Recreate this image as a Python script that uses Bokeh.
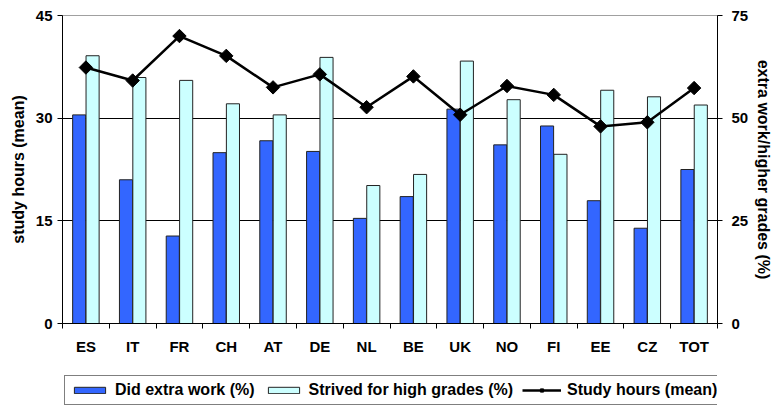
import math
from bokeh.plotting import figure
from bokeh.layouts import column
from bokeh.models import (Range1d, LinearAxis, FixedTicker, Legend, LegendItem, ColumnDataSource)
from bokeh.embed import file_html
from bokeh.resources import INLINE

countries = ["ES", "IT", "FR", "CH", "AT", "DE", "NL", "BE", "UK", "NO", "FI", "EE", "CZ", "TOT"]
did_extra_work = [50.8, 35.0, 21.3, 41.6, 44.5, 41.9, 25.6, 30.9, 52.2, 43.5, 48.1, 29.9, 23.2, 37.5]
strived_high_grades = [65.2, 59.9, 59.2, 53.5, 50.8, 64.8, 33.6, 36.3, 63.9, 54.5, 41.2, 56.8, 55.2, 53.2]
study_hours = [37.4, 35.5, 42.0, 39.1, 34.5, 36.4, 31.6, 36.1, 30.5, 34.7, 33.4, 28.8, 29.4, 34.4]
left_ticks = [0, 15, 30, 45]
right_ticks = [0, 25, 50, 75]
legend_labels = ["Did extra work (%)", "Strived for high grades (%)", "Study hours (mean)"]

FONT = "Liberation Sans"
BLUE = "#3366FF"
CYAN = "#CCFFFF"
EDGE = "#222222"
n = len(countries)
centers = [i + 0.5 for i in range(n)]
off = 0.143
bw = 0.28

src = ColumnDataSource(dict(
    x_extra=[c - off for c in centers],
    x_strived=[c + off for c in centers],
    x=centers,
    extra=did_extra_work,
    strived=strived_high_grades,
    hours=study_hours,
))

p = figure(width=775, height=372, output_backend="svg", toolbar_location=None,
           x_range=Range1d(0, n), y_range=Range1d(0, 45),
           min_border_left=62, min_border_right=53, min_border_top=15, min_border_bottom=49,
           background_fill_color="white", border_fill_color="white")
p.outline_line_color = "#a0a0a0"
p.outline_line_width = 1
p.extra_y_ranges = {"pct": Range1d(0, 75)}

# axes
p.xaxis.ticker = FixedTicker(ticks=centers, minor_ticks=list(range(n + 1)))
p.xaxis.major_label_overrides = {c: lab for c, lab in zip(centers, countries)}
p.xaxis.major_tick_out = 0
p.xaxis.major_tick_in = 0
p.xaxis.minor_tick_out = 5
p.xaxis.minor_tick_in = 0
p.xaxis.minor_tick_line_color = "black"
p.xaxis.major_label_standoff = 9

p.yaxis.ticker = FixedTicker(ticks=left_ticks)
p.yaxis.axis_label = "study hours (mean)"
p.yaxis.minor_tick_out = 0
p.yaxis.minor_tick_in = 0
p.yaxis.major_tick_out = 5
p.yaxis.major_tick_in = 0
p.yaxis.major_label_standoff = 5
p.yaxis.axis_label_standoff = 6

right = LinearAxis(y_range_name="pct", ticker=FixedTicker(ticks=right_ticks),
                   axis_label="extra work/higher grades (%)")
right.minor_tick_out = 0
right.minor_tick_in = 0
right.major_tick_out = 5
right.major_tick_in = 0
right.major_label_standoff = 9
right.axis_label_standoff = 4
p.add_layout(right, "right")

for ax in [p.xaxis[0], p.yaxis[0], right]:
    ax.axis_line_color = "black"
    ax.major_tick_line_color = "black"
    ax.major_label_text_font = FONT
    ax.major_label_text_font_style = "bold"
    ax.major_label_text_font_size = "15px"
    ax.major_label_text_color = "black"
    ax.axis_label_text_font = FONT
    ax.axis_label_text_font_style = "bold"
    ax.axis_label_text_font_size = "16px"
    ax.axis_label_text_color = "black"

p.xgrid.visible = False
p.ygrid.ticker = FixedTicker(ticks=[15, 30])
p.ygrid.grid_line_color = "black"
p.ygrid.grid_line_width = 1

# bars (percent, right axis)
p.vbar(x="x_extra", top="extra", width=bw, source=src, y_range_name="pct",
       fill_color=BLUE, line_color=EDGE, line_width=1)
p.vbar(x="x_strived", top="strived", width=bw, source=src, y_range_name="pct",
       fill_color=CYAN, line_color=EDGE, line_width=1)

# line (hours, left axis)
p.line(x="x", y="hours", source=src, line_color="black", line_width=2.5)
p.scatter(x="x", y="hours", source=src, marker="square", angle=math.pi / 4,
          size=9.5, fill_color="black", line_color="black")

# legend strip (separate small figure so the legend is not clipped)
q = figure(width=775, height=34, output_backend="svg", toolbar_location=None,
           x_range=Range1d(0, 1), y_range=Range1d(0, 1),
           min_border=0, min_border_left=0, min_border_right=0, min_border_top=0, min_border_bottom=0,
           background_fill_color="white", border_fill_color="white")
q.axis.visible = False
q.grid.visible = False
q.outline_line_color = None
# legend proxies: one point placed outside the visible range, so only the legend swatch shows
e = ColumnDataSource(dict(x=[-5], top=[-4], y=[-5]))
r1 = q.vbar(x="x", top="top", width=0.1, source=e, fill_color=BLUE, line_color=EDGE, line_width=1)
r2 = q.vbar(x="x", top="top", width=0.1, source=e, fill_color=CYAN, line_color=EDGE, line_width=1)
r3 = q.line(x="x", y="y", source=e, line_color="black", line_width=2.5)
r4 = q.scatter(x="x", y="y", source=e, marker="square", angle=math.pi / 4, size=9.5,
               fill_color="black", line_color="black")

legend = Legend(items=[
    LegendItem(label=legend_labels[0], renderers=[r1]),
    LegendItem(label=legend_labels[1], renderers=[r2]),
    LegendItem(label=legend_labels[2], renderers=[r3, r4]),
], orientation="horizontal", location=(2, 1))
legend.label_text_font = FONT
legend.label_text_font_style = "bold"
legend.label_text_font_size = "16px"
legend.label_text_color = "black"
legend.glyph_width = 39
legend.glyph_height = 8
legend.label_standoff = 6
legend.spacing = 9
legend.padding = 5
legend.margin = 0
legend.border_line_color = "black"
legend.border_line_width = 1
legend.background_fill_color = "white"
legend.background_fill_alpha = 1
q.add_layout(legend)

layout = column(p, q, spacing=0)
open("out.html", "w").write(file_html(layout, INLINE))
